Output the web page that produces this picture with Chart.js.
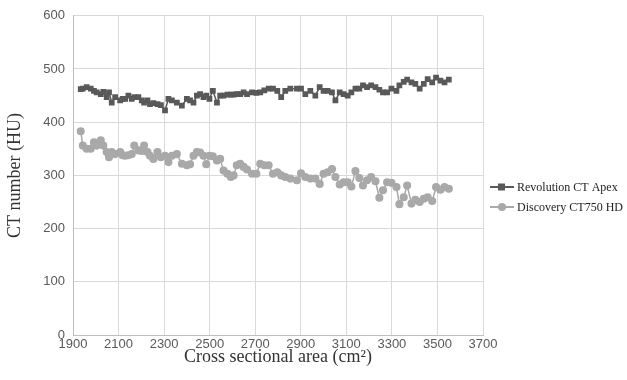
<!DOCTYPE html>
<html lang="en">
  <head>
    <meta charset="UTF-8" />
    <title>CT number vs cross sectional area</title>
    <style>
      html, body { margin: 0; padding: 0; background: #fff; }
      #wrap { width: 627px; height: 380px; }
    </style>
  </head>
  <body>
    <script src="https://cdn.jsdelivr.net/npm/chart.js"></script>
    <div id="wrap"><canvas id="myChart" width="627" height="380"></canvas></div>
    <script>
      // cross sectional area (cm2) of each measured slice
      const areas = [
        1934, 1943, 1960, 1978, 1992, 2004, 2022, 2033, 2048, 2058,
        2070, 2085, 2107, 2118, 2129, 2143, 2158, 2169, 2187, 2202,
        2212, 2227, 2238, 2253, 2271, 2286, 2304, 2319, 2334, 2356,
        2378, 2400, 2414, 2429, 2444, 2458, 2473, 2485, 2499, 2514,
        2532, 2546, 2561, 2578, 2593, 2605, 2619, 2634, 2649, 2664,
        2686, 2705, 2722, 2740, 2759, 2778, 2797, 2814, 2832, 2854,
        2883, 2901, 2920, 2942, 2964, 2983, 3000, 3018, 3037, 3052,
        3071, 3088, 3106, 3122, 3140, 3157, 3173, 3191, 3209, 3228,
        3245, 3261, 3279, 3298, 3320, 3333, 3352, 3367, 3386, 3403,
        3422, 3440, 3457, 3477, 3494, 3513, 3531, 3550
      ];

      const revolution = [
        462, 463, 466, 463, 459, 456, 453, 457, 447, 456,
        437, 447, 441, 444, 444, 450, 444, 447, 447, 441,
        437, 441, 434, 436, 434, 432, 422, 444, 441, 437,
        431, 444, 441, 437, 450, 453, 447, 450, 444, 459,
        437, 450, 450, 452, 452, 452, 453, 453, 456, 453,
        456, 455, 456, 460, 463, 463, 459, 447, 459, 463,
        463, 463, 453, 459, 450, 466, 459, 459, 456, 441,
        456, 453, 450, 456, 463, 463, 469, 466, 469, 466,
        461, 456, 456, 463, 459, 469, 476, 480, 475, 472,
        463, 472, 481, 475, 484, 478, 475, 480
      ];

      const discovery = [
        383, 356, 350, 350, 362, 356, 366, 356, 344, 334,
        344, 340, 344, 338, 337, 338, 340, 356, 347, 346,
        356, 344, 337, 331, 344, 334, 337, 325, 337, 340,
        322, 319, 321, 337, 344, 343, 337, 321, 337, 336,
        328, 331, 309, 303, 297, 300, 319, 322, 316, 311,
        303, 303, 322, 319, 319, 303, 306, 300, 297, 294,
        291, 304, 297, 294, 294, 284, 303, 306, 312, 297,
        283, 287, 287, 279, 308, 295, 281, 291, 297, 289,
        258, 272, 287, 286, 278, 246, 259, 281, 247, 254,
        250, 256, 259, 252, 278, 273, 278, 275
      ];

      const seriesNames = ["Revolution CT Apex", "Discovery CT750 HD"];
      const darkGrey = "#595959";
      const lightGrey = "#a9a9a9";

      const toPoints = (vals) => vals.map((v, i) => ({ x: areas[i], y: v }));

      // legend drawn by hand: line with a marker, like the spreadsheet legend
      const legendPlugin = {
        id: "lineLegend",
        afterDraw(chart) {
          const ctx = chart.ctx;
          const rows = [187, 207];
          chart.data.datasets.forEach((ds, i) => {
            const y = rows[i];
            ctx.save();
            ctx.strokeStyle = ds.borderColor;
            ctx.fillStyle = ds.backgroundColor;
            ctx.lineWidth = 2;
            ctx.beginPath();
            ctx.moveTo(490, y);
            ctx.lineTo(514, y);
            ctx.stroke();
            if (ds.pointStyle === "rect") {
              ctx.fillRect(498, y - 3.5, 7, 7);
            } else {
              ctx.beginPath();
              ctx.arc(502, y, 4, 0, Math.PI * 2);
              ctx.fill();
            }
            ctx.fillStyle = "#222";
            ctx.font = "12px 'Liberation Serif'";
            ctx.textBaseline = "middle";
            ctx.fillText(ds.label, 517, y + 1);
            ctx.restore();
          });
        },
      };

      new Chart("myChart", {
        type: "line",
        data: {
          datasets: [
            {
              label: seriesNames[0],
              data: toPoints(revolution),
              borderColor: darkGrey,
              backgroundColor: darkGrey,
              borderWidth: 1.5,
              pointStyle: "rect",
              pointRadius: 3,
              pointHoverRadius: 3,
            },
            {
              label: seriesNames[1],
              data: toPoints(discovery),
              borderColor: lightGrey,
              backgroundColor: lightGrey,
              borderWidth: 1.5,
              pointStyle: "circle",
              pointRadius: 3.3,
              pointHoverRadius: 3.3,
            },
          ],
        },
        options: {
          responsive: false,
          animation: false,
          layout: { padding: { left: 0, right: 144, top: 15, bottom: 0 } },
          plugins: {
            legend: { display: false },
            tooltip: { enabled: false },
          },
          scales: {
            x: {
              type: "linear",
              min: 1900,
              max: 3700,
              ticks: {
                stepSize: 200,
                callback: (v) => String(v),
                color: "#595959",
                font: { family: "'Liberation Sans'", size: 13 },
                padding: 2,
                maxRotation: 0,
              },
              grid: { color: "#d9d9d9", drawTicks: false },
              border: { color: "#bfbfbf" },
              title: {
                display: true,
                text: "Cross sectional area (cm²)",
                color: "#333",
                font: { family: "'Liberation Serif'", size: 18 },
                padding: { top: 2, bottom: 12 },
              },
              afterFit: (s) => { s.height = 45; },
            },
            y: {
              min: 0,
              max: 600,
              ticks: {
                stepSize: 100,
                color: "#595959",
                font: { family: "'Liberation Sans'", size: 13 },
                padding: 8,
              },
              grid: { color: "#d9d9d9", drawTicks: false },
              border: { color: "#bfbfbf" },
              title: {
                display: true,
                text: "CT number (HU)",
                color: "#333",
                font: { family: "'Liberation Serif'", size: 18 },
                padding: { top: 4, bottom: 4 },
              },
              afterFit: (s) => { s.width = 73; },
            },
          },
        },
        plugins: [legendPlugin],
      });
    </script>
  </body>
</html>
